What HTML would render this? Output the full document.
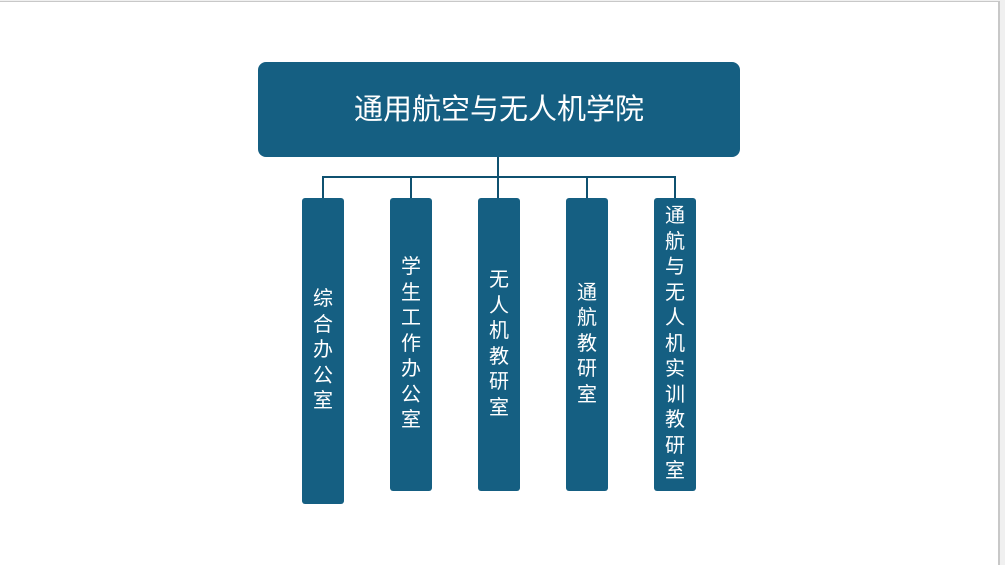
<!DOCTYPE html>
<html><head><meta charset="utf-8"><style>
body{margin:0;width:1005px;height:564px;background:#f0f0f0;position:relative;overflow:hidden;font-family:"Liberation Sans","Noto Sans CJK SC",sans-serif}
.page{position:absolute;left:0;top:1px;width:998px;height:563px;background:#fff;border-top:1px solid #c8c8c8;border-right:2px solid #c8c8c8}
.top{position:absolute;left:258px;top:62px;width:482px;height:95px;background:#155f82;border-radius:8px;color:#fff;font-size:29px;display:flex;align-items:center;justify-content:center}
.top span{position:relative;top:-3px}
.ln{position:absolute;background:#0f5170}
.b{position:absolute;width:42px;top:198px;background:#155f82;border-radius:3px;color:#fff;font-size:20px;display:flex;flex-direction:column;align-items:center;justify-content:center;line-height:25.5px}
</style></head><body>
<div class="page"></div>
<div class="top"><span>通用航空与无人机学院</span></div>
<div class="ln" style="left:497px;top:157px;width:2px;height:21px"></div>
<div class="ln" style="left:322px;top:176px;width:354px;height:2px"></div>
<div class="ln" style="left:322px;top:176px;width:2px;height:22px"></div>
<div class="ln" style="left:410px;top:176px;width:2px;height:22px"></div>
<div class="ln" style="left:497px;top:176px;width:2px;height:22px"></div>
<div class="ln" style="left:586px;top:176px;width:2px;height:22px"></div>
<div class="ln" style="left:674px;top:176px;width:2px;height:22px"></div>
<div class="b" style="left:302px;height:306px"><span>综</span><span>合</span><span>办</span><span>公</span><span>室</span></div>
<div class="b" style="left:390px;height:293px"><span>学</span><span>生</span><span>工</span><span>作</span><span>办</span><span>公</span><span>室</span></div>
<div class="b" style="left:478px;height:293px"><span>无</span><span>人</span><span>机</span><span>教</span><span>研</span><span>室</span></div>
<div class="b" style="left:566px;height:293px"><span>通</span><span>航</span><span>教</span><span>研</span><span>室</span></div>
<div class="b" style="left:654px;height:293px"><span>通</span><span>航</span><span>与</span><span>无</span><span>人</span><span>机</span><span>实</span><span>训</span><span>教</span><span>研</span><span>室</span></div>
</body></html>
